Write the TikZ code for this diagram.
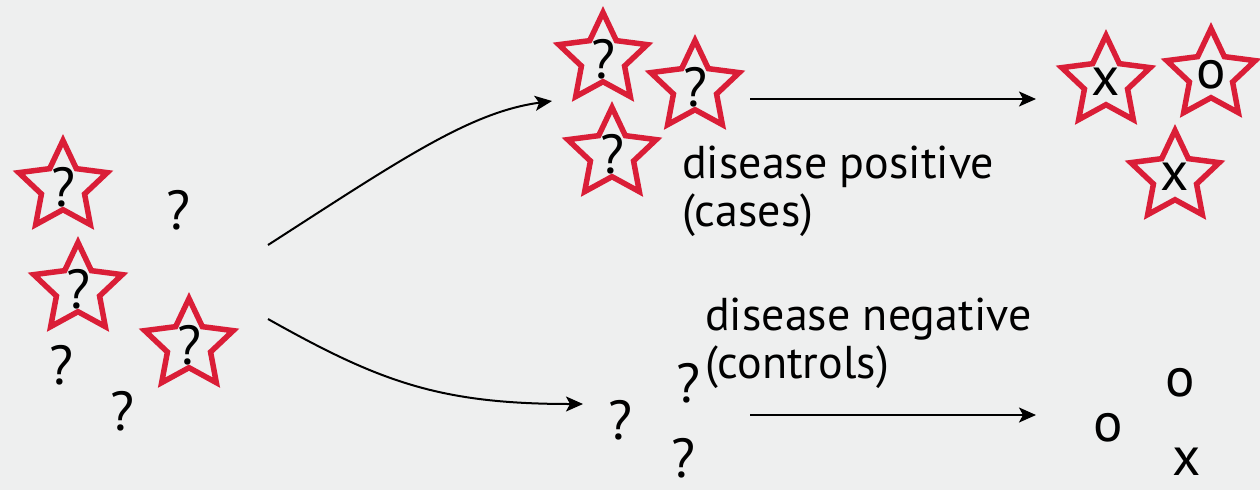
\documentclass[tikz,border=0pt]{standalone}
\usepackage{fontspec}
\setmainfont{PT Sans}
\usetikzlibrary{shapes.geometric}
\usetikzlibrary{arrows.meta}
\definecolor{starRed}{RGB}{218,30,55}
\definecolor{paperGray}{RGB}{238,239,239}

\begin{document}
\begin{tikzpicture}[
    x=1pt, y=-1pt,
    subject/.style={
        star,
        star points=5,
        star point ratio=2.05,
        draw=starRed,
        line width=5.5pt,
        minimum size=93pt,
        inner sep=0pt
    },
    status/.style={
        inner sep=0pt,
        font=\fontsize{55}{60}\selectfont
    },
    caption/.style={
        inner sep=0pt,
        anchor=north west,
        align=left,
        font=\fontsize{46}{48}\selectfont
    },
    flow/.style={
        black,
        line width=2pt,
        -{Stealth[length=17pt,width=15pt,inset=4pt]}
    }
]

%------------------------------------------------
% Canvas
%------------------------------------------------
\fill[paperGray] (0,0) rectangle (1260,490);
\useasboundingbox (0,0) rectangle (1260,490);

%------------------------------------------------
% Population: unknown status
%------------------------------------------------
\node[subject] (popA) at (63,187) {};
\node[subject] (popB) at (78,289) {};
\node[subject] (popC) at (189,345) {};
\node[status] (qA) at (popA) {?};
\node[status] (qB) at (popB) {?};
\node[status] (qC) at (popC) {?};

\node[status] (qD) at (178,210) {?};
\node[status] (qE) at (61,365) {?};
\node[status] (qF) at (122,411) {?};

%------------------------------------------------
% Cases
%------------------------------------------------
\node[subject] (caseA) at (603,59) {};
\node[subject] (caseB) at (695,87) {};
\node[subject] (caseC) at (612,154) {};
\node[status] (qcA) at (caseA) {?};
\node[status] (qcB) at (caseB) {?};
\node[status] (qcC) at (caseC) {?};

\node[caption] (poslabel) at (682,146)
    {disease positive\\(cases)};

%------------------------------------------------
% Controls
%------------------------------------------------
\node[status] (ctlA) at (620,420) {?};
\node[status] (ctlB) at (688,383) {?};
\node[status] (ctlC) at (683,458) {?};

\node[caption] (neglabel) at (705,298)
    {disease negative\\(controls)};

%------------------------------------------------
% Exposure found
%------------------------------------------------
\node[subject] (expA) at (1106,82) {};
\node[subject] (expB) at (1211,75) {};
\node[subject] (expC) at (1175,177) {};
\node[status] (xA) at (expA) {x};
\node[status] (oB) at (expB) {o};
\node[status] (xC) at (expC) {x};

\node[status] (oD) at (1180,383) {o};
\node[status] (oE) at (1108,428) {o};
\node[status] (xF) at (1187,462) {x};

%------------------------------------------------
% Arrows
%------------------------------------------------
\coordinate (splitUp) at (268,245);
\coordinate (splitDown) at (268,319);
\coordinate (caseIn) at (552,101);
\coordinate (ctlIn) at (583,404);
\coordinate (caseOut) at (750,99);
\coordinate (caseEnd) at (1036,99);
\coordinate (ctlOut) at (750,415);
\coordinate (ctlEnd) at (1036,415);

\draw[flow] (splitUp) .. controls (400,160) and (470,112) .. (caseIn);
\draw[flow] (splitDown) .. controls (380,382) and (440,404) .. (ctlIn);
\draw[flow] (caseOut) -- (caseEnd);
\draw[flow] (ctlOut) -- (ctlEnd);

\end{tikzpicture}
\end{document}
